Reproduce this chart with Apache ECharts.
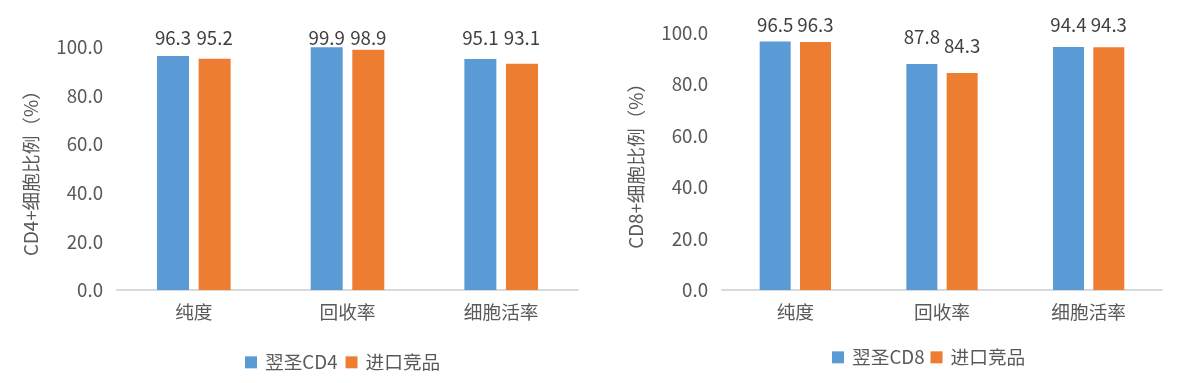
<!DOCTYPE html>
<html>
<head>
<meta charset="utf-8">
<script src="https://cdn.jsdelivr.net/npm/echarts@6/dist/echarts.min.js"></script>
<style>
html,body{margin:0;padding:0;background:#fff;}
#c{width:1201px;height:383px;}
</style>
</head>
<body>
<div id="c"></div>
<script>
// ---- data ----
const categories = ['纯度', '回收率', '细胞活率'];
const cd4Yisheng = [96.3, 99.9, 95.1];
const cd4Import = [95.2, 98.9, 93.1];
const cd8Yisheng = [96.5, 87.8, 94.4];
const cd8Import = [96.3, 84.3, 94.3];
const yMin = 0, yMax = 100, yStep = 20;
const leftYName = 'CD4+细胞比例（%）';
const rightYName = 'CD8+细胞比例（%）';
const leftLegend = ['翌圣CD4', '进口竞品'];
const rightLegend = ['翌圣CD8', '进口竞品'];

// ---- styles ----
const FONT = '"Noto Sans CJK SC", "Noto Sans", sans-serif';
const TXT = '#595959';
const BLUE = '#5B9BD5';
const ORANGE = '#ED7D31';
const FS = 18.7;

const chart = echarts.init(document.getElementById('c'), null, {renderer: 'canvas'});

function xAx(gi) {
  return {
    type: 'category', gridIndex: gi, data: categories,
    axisLine: {show: true, lineStyle: {color: '#d9d9d9', width: 2}},
    axisTick: {show: false},
    axisLabel: {color: TXT, fontSize: FS, fontFamily: FONT, margin: 13},
    splitLine: {show: false}
  };
}
function yAx(gi, name) {
  return {
    type: 'value', gridIndex: gi, min: yMin, max: yMax, interval: yStep,
    name: name, nameLocation: 'middle', nameGap: 77, nameRotate: 90,
    nameTextStyle: {color: TXT, fontSize: FS, fontFamily: FONT},
    axisLine: {show: false}, axisTick: {show: false}, splitLine: {show: false},
    axisLabel: {color: TXT, fontSize: FS, fontFamily: FONT, margin: 14,
      formatter: v => v.toFixed(1)}
  };
}
// clamp (top limit for label box bottom) per grid
const clampY = [47.3, 34.3];
function bar(name, data, color, gi, bw) {
  return {
    type: 'bar', name: name, data: data, xAxisIndex: gi, yAxisIndex: gi,
    barWidth: bw, barGap: '30%',
    itemStyle: {color: color},
    label: {show: true, position: 'top', color: '#404040', fontSize: FS, fontFamily: FONT,
      formatter: p => Number(p.value).toFixed(1)},
    labelLayout: function (p) {
      return {
        x: p.rect.x + p.rect.width / 2,
        y: Math.max(p.rect.y - 17.7, clampY[gi]),
        align: 'center', verticalAlign: 'bottom'
      };
    }
  };
}

const option = {
  animation: false,
  backgroundColor: '#fff',
  textStyle: {fontFamily: FONT},
  grid: [
    {left: 117, top: 47, width: 461, height: 243, containLabel: false},
    {left: 722, top: 32.5, width: 440, height: 257.5, containLabel: false}
  ],
  legend: [
    {data: leftLegend.map((n, i) => ({name: n, itemStyle: {color: i ? ORANGE : BLUE}})),
      left: 240, top: 348, itemWidth: 12, itemHeight: 12, itemGap: 8, icon: 'rect',
      textStyle: {color: TXT, fontSize: FS, fontFamily: FONT, padding: [0, 0, 0, 3]}},
    {data: rightLegend.map((n, i) => ({name: n, itemStyle: {color: i ? ORANGE : BLUE}})),
      left: 827, top: 343, itemWidth: 12, itemHeight: 12, itemGap: 6, icon: 'rect',
      textStyle: {color: TXT, fontSize: FS, fontFamily: FONT, padding: [0, 0, 0, 3]}}
  ],
  xAxis: [xAx(0), xAx(1)],
  yAxis: [yAx(0, leftYName), yAx(1, rightYName)],
  series: [
    bar(leftLegend[0], cd4Yisheng, BLUE, 0, 32),
    bar(leftLegend[1], cd4Import, ORANGE, 0, 32),
    bar(rightLegend[0], cd8Yisheng, BLUE, 1, 31),
    bar(rightLegend[1], cd8Import, ORANGE, 1, 31)
  ]
};
chart.setOption(option);
</script>
</body>
</html>
